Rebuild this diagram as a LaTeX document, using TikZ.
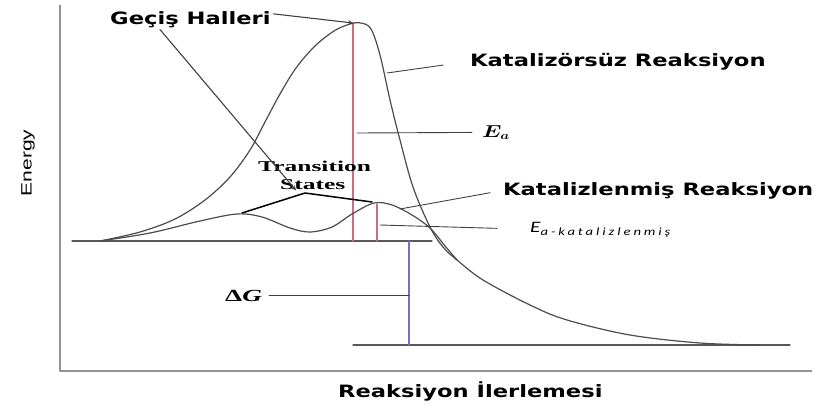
\documentclass[tikz,border=0pt]{standalone}
\usepackage{graphicx}
\usepackage{fontspec}
\setmainfont{DejaVu Sans}
\newfontfamily\serfont{Liberation Serif}
\newfontfamily\narrowfont{Liberation Sans}
\newfontfamily\calfont{Carlito}
\newfontfamily\calspfont[LetterSpace=20]{Carlito}
\newcommand{\wide}[1]{\scalebox{1.33}[1]{#1}}
\definecolor{eared}{RGB}{205,110,125}
\definecolor{dgblue}{RGB}{120,110,200}
\usetikzlibrary{positioning}
\begin{document}
\begin{tikzpicture}[x=1pt,y=-1pt,>=stealth,line join=round,line cap=round,
	lbl/.style={inner sep=0pt,anchor=base west,font=\bfseries\fontsize{17}{20}\selectfont},
	lead/.style={draw=black!75,line width=0.9pt},
	curve/.style={draw=black!70,line width=1.2pt,smooth,tension=0.55}]
	\useasboundingbox (0,0) rectangle (820,405);
	\path (60,5) coordinate (ytop)
		(60,371) coordinate (O)
		(812,371) coordinate (xend)
		(72,241) coordinate (R0) (432,241) coordinate (R1)
		(353,345) coordinate (P0) (790,345) coordinate (P1)
		(353,23) coordinate (TSu) (353,241) coordinate (TSu0)
		(377,204) coordinate (TSc) (377,241) coordinate (TSc0)
		(409,241) coordinate (dG1) (409,345) coordinate (dG0)
		(242,213) coordinate (hump1) (372,202) coordinate (hump2)
		(305,193) coordinate (tsmid)
		(387,73) coordinate (onU) (400,209) coordinate (onC)
		(357,133) coordinate (eaU) (380,225) coordinate (eaC);
	% eksenler
	\draw[gray!85,line width=2.5pt,line cap=butt] (ytop)--(O)--(xend);
	% seviyeler
	\draw[black!65,line width=1.2pt] (R0)--(R1) (P0)--(P1);
	\draw[eared,line width=2pt] (TSu)--(TSu0);
	\draw[eared,line width=1.2pt] (TSc)--(TSc0);
	\draw[dgblue,line width=2pt] (dG1)--(dG0);
	% katalizörsüz
	\draw[curve] plot coordinates {(100,241) (140,232) (175,219) (205,200) (230,177)
		(250,150) (265,122) (280,94) (296,68) (315,46) (334,31) (350,24) (361,23)
		(371,29) (380,55) (390,100) (400,140) (413,187) (430,227) (443,247) (457,260)
		(483,280) (530,305) (567,320) (630,335) (700,343) (760,345)};
	% katalizlenmis
	\draw[curve] plot coordinates {(100,241) (150,233) (200,221) (237,214) (262,217)
		(290,228) (310,232) (332,227) (352,214) (374,203) (392,205) (412,215)
		(430,228) (445,246) (457,260)};
	% etiketler
	\node[lbl] (gecis) at (110,24) {\wide{Geçiş Halleri}};
	\node[lbl] (katsuz) at (470,66) {\wide{Katalizörsüz Reaksiyon}};
	\node[lbl] (katli) at (503,195) {\wide{Katalizlenmiş Reaksiyon}};
	\node[lbl] (xlab) at (338,397) {\wide{Reaksiyon İlerlemesi}};
	\node[rotate=90,inner sep=0pt,font=\narrowfont\fontsize{15}{15}\selectfont] (ylab) at (28,163) {\scalebox{1.4}[1]{Energy}};
	\node[inner sep=0pt,anchor=base west,font=\fontsize{16}{16}\selectfont] (ea) at (482,137) {\scalebox{1.3}[1]{\boldmath$E_a$}};
	\node[inner sep=0pt,anchor=base west] (eak) at (530,232) {\wide{\calfont\itshape\fontsize{16}{16}\selectfont E\raisebox{-3pt}{\calspfont\itshape\fontsize{11}{11}\selectfont a-katalizlenmiş}}};
	\node[inner sep=0pt,anchor=base west,font=\serfont\bfseries\fontsize{17}{17}\selectfont] (dg) at (225,301) {\scalebox{1.6}[1]{Δ\textit{G}}};
	\node[inner sep=0pt,anchor=base west,font=\serfont\bfseries\fontsize{15}{18}\selectfont] (trans) at (258,171) {\scalebox{1.7}[1]{Transition}};
	\node[inner sep=0pt,anchor=base west,font=\serfont\bfseries\fontsize{15}{18}\selectfont] (states) at (280,189) {\scalebox{1.7}[1]{States}};
	% oklar ve cizgiler
	\draw[->,lead,line width=1.1pt] ([shift={(3,3)}]gecis.north east) -- (TSu);
	\draw[->,lead,line width=1.1pt] ([shift={(50,2)}]gecis.south west) -- ([shift={(16,1)}]states.south west);
	\draw[black,line width=1.5pt] (hump1)--(tsmid)--(hump2);
	\draw[lead,shorten >=27pt] (onU)--(katsuz.west);
	\draw[lead,shorten >=13pt] (onC)--(katli.west);
	\draw[lead,shorten >=10pt] (eaU)--(ea.west);
	\draw[lead,shorten >=33pt] (eaC)--(eak.west);
	\draw[lead,shorten <=7pt] (dg.east)--(dG1 |- dg.east);
\end{tikzpicture}
\end{document}
